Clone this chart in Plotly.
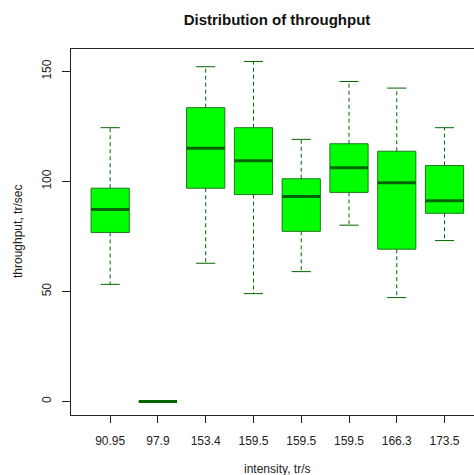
import plotly.graph_objects as go

# ---- data ----
categories = ["90.95", "97.9", "153.4", "159.5", "159.5", "159.5", "166.3", "173.5"]
lower_whisker = [53.2, 0, 62.8, 49.0, 59.0, 80.1, 47.2, 73.1]
q1 = [76.8, 0, 96.9, 94.0, 77.3, 95.0, 69.2, 85.5]
median = [87.2, 0, 115.1, 109.4, 93.1, 106.2, 99.4, 91.2]
q3 = [96.9, 0, 133.5, 124.4, 101.2, 117.1, 113.7, 107.2]
upper_whisker = [124.4, 0, 152.1, 154.5, 119.1, 145.4, 142.4, 124.4]
y_ticks = [0, 50, 100, 150]

positions = list(range(1, len(categories) + 1))
BOX_W = 0.8
CAP_W = 0.4
DARK = "#006400"

fig = go.Figure()

# whiskers (dashed)
wx, wy = [], []
for p, lo, a, b, hi in zip(positions, lower_whisker, q1, q3, upper_whisker):
    wx += [p, p, None, p, p, None]
    wy += [b, hi, None, a, lo, None]
fig.add_trace(go.Scatter(x=wx, y=wy, mode="lines",
                         line=dict(color=DARK, width=1, dash="4px,3px"),
                         hoverinfo="skip", showlegend=False))
# caps (solid)
cx, cy = [], []
for p, lo, hi in zip(positions, lower_whisker, upper_whisker):
    cx += [p - CAP_W / 2, p + CAP_W / 2, None, p - CAP_W / 2, p + CAP_W / 2, None]
    cy += [hi, hi, None, lo, lo, None]
fig.add_trace(go.Scatter(x=cx, y=cy, mode="lines",
                         line=dict(color=DARK, width=1),
                         hoverinfo="skip", showlegend=False))

# boxes
fig.add_trace(go.Box(x=positions, q1=q1, median=median, q3=q3,
                     lowerfence=q1, upperfence=q3, width=BOX_W,
                     fillcolor="#00FF00", line=dict(color="#1a7a1a", width=1),
                     whiskerwidth=0, boxpoints=False, showlegend=False))

# medians (thick)
mx, my = [], []
for p, m in zip(positions, median):
    mx += [p - BOX_W / 2, p + BOX_W / 2, None]
    my += [m, m, None]
fig.add_trace(go.Scatter(x=mx, y=my, mode="lines",
                         line=dict(color=DARK, width=3),
                         hoverinfo="skip", showlegend=False))

font_family = "Liberation Sans, Arial, sans-serif"
fig.update_layout(
    width=474, height=475,
    margin=dict(l=71, r=0, t=49, b=60),
    paper_bgcolor="white", plot_bgcolor="white",
    font=dict(family=font_family, size=12, color="#222222"),
    title=dict(text="<b>Distribution of throughput</b>", x=277 / 474, xref="container",
               xanchor="center", y=1 - 20 / 475, yref="container", yanchor="middle",
               font=dict(size=15, color="#111111")),
    xaxis=dict(range=[0.18, 8.617], tickmode="array", tickvals=positions,
               ticktext=categories, showgrid=False, zeroline=False,
               showline=True, linecolor="#222222", linewidth=1, mirror=True,
               ticks="outside", ticklen=7, tickcolor="#222222",
               ticklabelstandoff=8),
    yaxis=dict(range=[-6.16, 160.16], tickmode="array", tickvals=y_ticks,
               showgrid=False, zeroline=False, showline=True,
               linecolor="#222222", linewidth=1,
               ticks="outside", ticklen=8, tickcolor="#222222",
               tickangle=-90, ticklabelstandoff=6),
    annotations=[
        dict(text="intensity, tr/s", xref="paper", yref="paper",
             x=(277 - 71) / (474 - 71), y=0, yshift=-(469 - 415),
             xanchor="center", yanchor="middle", showarrow=False,
             font=dict(size=12, color="#222222")),
        dict(text="throughput, tr/sec", xref="paper", yref="paper",
             x=0, xshift=-(71 - 18), y=0.5, textangle=-90,
             xanchor="center", yanchor="middle", showarrow=False,
             font=dict(size=12, color="#222222")),
    ],
)

fig.write_html("out.html")
